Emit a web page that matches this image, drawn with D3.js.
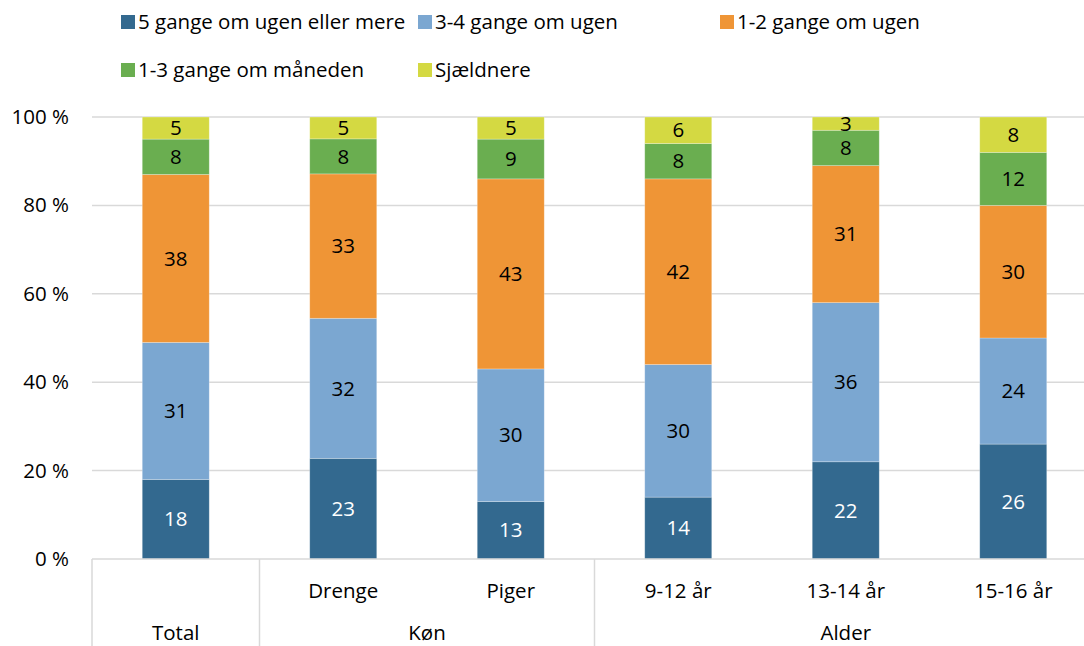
<!DOCTYPE html>
<html>
<head>
<meta charset="utf-8">
<script src="https://cdn.jsdelivr.net/npm/d3@7"></script>
<style>
  html, body { margin: 0; padding: 0; background: #fff; }
  svg { display: block; font-family: "Open Sans", sans-serif; }
</style>
</head>
<body>
<svg id="chart" width="1084" height="646"></svg>
<script>
const categories = ["Total", "Drenge", "Piger", "9-12 år", "13-14 år", "15-16 år"];
const categoryLabels = ["", "Drenge", "Piger", "9-12 år", "13-14 år", "15-16 år"];
const groupNames = ["Total", "Køn", "Alder"];
const groupMembers = [["Total"], ["Drenge", "Piger"], ["9-12 år", "13-14 år", "15-16 år"]];
const seriesNames = ["5 gange om ugen eller mere", "3-4 gange om ugen", "1-2 gange om ugen", "1-3 gange om måneden", "Sjældnere"];
const seriesColors = ["#33698f", "#7ba7d1", "#ef9536", "#6aae50", "#d4d942"];
const labelColors = ["#ffffff", "#000000", "#000000", "#000000", "#000000"];
const s5plus = [18, 23, 13, 14, 22, 26];
const s34 = [31, 32, 30, 30, 36, 24];
const s12 = [38, 33, 43, 42, 31, 30];
const s13m = [8, 8, 9, 8, 8, 12];
const sRare = [5, 5, 5, 6, 3, 8];
const yTicks = [0, 0.2, 0.4, 0.6, 0.8, 1.0];

(function () {
const FS = 20.5;
const seriesValues = [s5plus, s34, s12, s13m, sRare];
const rows = categories.map((c, i) => {
  const r = { cat: c };
  seriesNames.forEach((s, k) => r[s] = seriesValues[k][i]);
  return r;
});

const svg = d3.select("#chart");
const pLeft = 92, pRight = 1097, pTop = 117, pBottom = 559, canvasBottom = 646;

const x = d3.scaleBand().domain(categories).range([pLeft, pRight]).paddingInner(0.6).paddingOuter(0.3);
const y = d3.scaleLinear().domain([0, 1]).range([pBottom, pTop]);

const stacked = d3.stack().keys(seriesNames).offset(d3.stackOffsetExpand)(rows);

// gridlines
svg.append("g").selectAll("line").data(yTicks.filter(t => t > 0)).join("line")
  .attr("x1", pLeft).attr("x2", pRight)
  .attr("y1", d => y(d)).attr("y2", d => y(d))
  .attr("stroke", "#d9d9d9").attr("stroke-width", 1.5);

// y axis labels
const yAxis = d3.axisLeft(y).tickValues(yTicks).tickSize(0).tickPadding(23)
  .tickFormat(d => Math.round(d * 100) + " %");
const gy = svg.append("g").attr("transform", `translate(${pLeft},0)`).call(yAxis);
gy.select(".domain").remove();
gy.selectAll("text").attr("font-size", FS).attr("fill", "#000").attr("font-family", "Open Sans, sans-serif");

// bars
const layers = svg.append("g").selectAll("g").data(stacked).join("g")
  .attr("fill", (d, i) => seriesColors[i]);
layers.selectAll("rect").data(d => d).join("rect")
  .attr("x", d => x(d.data.cat))
  .attr("width", x.bandwidth())
  .attr("y", d => y(d[1]))
  .attr("height", d => y(d[0]) - y(d[1]))
  .attr("stroke", "#ffffff").attr("stroke-opacity", 0.35).attr("stroke-width", 0.75);

// data labels
const lbl = svg.append("g").selectAll("g").data(stacked).join("g")
  .attr("fill", (d, i) => labelColors[i]);
lbl.selectAll("text").data(d => d.map(p => ({ p, key: d.key }))).join("text")
  .attr("x", d => x(d.p.data.cat) + x.bandwidth() / 2)
  .attr("y", d => (y(d.p[0]) + y(d.p[1])) / 2)
  .attr("dy", "0.35em")
  .attr("text-anchor", "middle")
  .attr("font-size", FS)
  .text(d => d.p.data[d.key]);

// x axis baseline
svg.append("line").attr("x1", pLeft).attr("x2", pRight).attr("y1", pBottom).attr("y2", pBottom)
  .attr("stroke", "#d9d9d9").attr("stroke-width", 1.5);

// category labels (level 1)
svg.append("g").selectAll("text").data(categories).join("text")
  .attr("x", d => x(d) + x.bandwidth() / 2)
  .attr("y", 591).attr("dy", "0.35em")
  .attr("text-anchor", "middle").attr("font-size", FS).attr("fill", "#000")
  .text((d, i) => categoryLabels[i]);

// group separators and labels (level 2)
const step = x.step();
const groupBounds = groupMembers.map(m => {
  const x0 = x(m[0]) - (step - x.bandwidth()) / 2;
  const x1 = x(m[m.length - 1]) + x.bandwidth() + (step - x.bandwidth()) / 2;
  return [x0, x1];
});
const sepX = [groupBounds[0][0], ...groupBounds.map(b => b[1])];
svg.append("g").selectAll("line").data(sepX).join("line")
  .attr("x1", d => d).attr("x2", d => d)
  .attr("y1", pBottom).attr("y2", canvasBottom)
  .attr("stroke", "#d9d9d9").attr("stroke-width", 1.5);
svg.append("g").selectAll("text").data(groupNames).join("text")
  .attr("x", (d, i) => (groupBounds[i][0] + groupBounds[i][1]) / 2)
  .attr("y", 633).attr("dy", "0.35em")
  .attr("text-anchor", "middle").attr("font-size", FS).attr("fill", "#000")
  .text(d => d);

// legend
const legendColX = [121, 418, 720];
const legendRowY = [22, 70];
const lg = svg.append("g").selectAll("g").data(seriesNames).join("g")
  .attr("transform", (d, i) => `translate(${legendColX[i % 3]},${legendRowY[Math.floor(i / 3)]})`);
lg.append("rect").attr("x", 0).attr("y", -7).attr("width", 14).attr("height", 14)
  .attr("fill", (d, i) => seriesColors[i]);
lg.append("text").attr("x", 17).attr("y", 0).attr("dy", "0.35em")
  .attr("font-size", FS).attr("fill", "#000").text(d => d);
})();
</script>
</body>
</html>
